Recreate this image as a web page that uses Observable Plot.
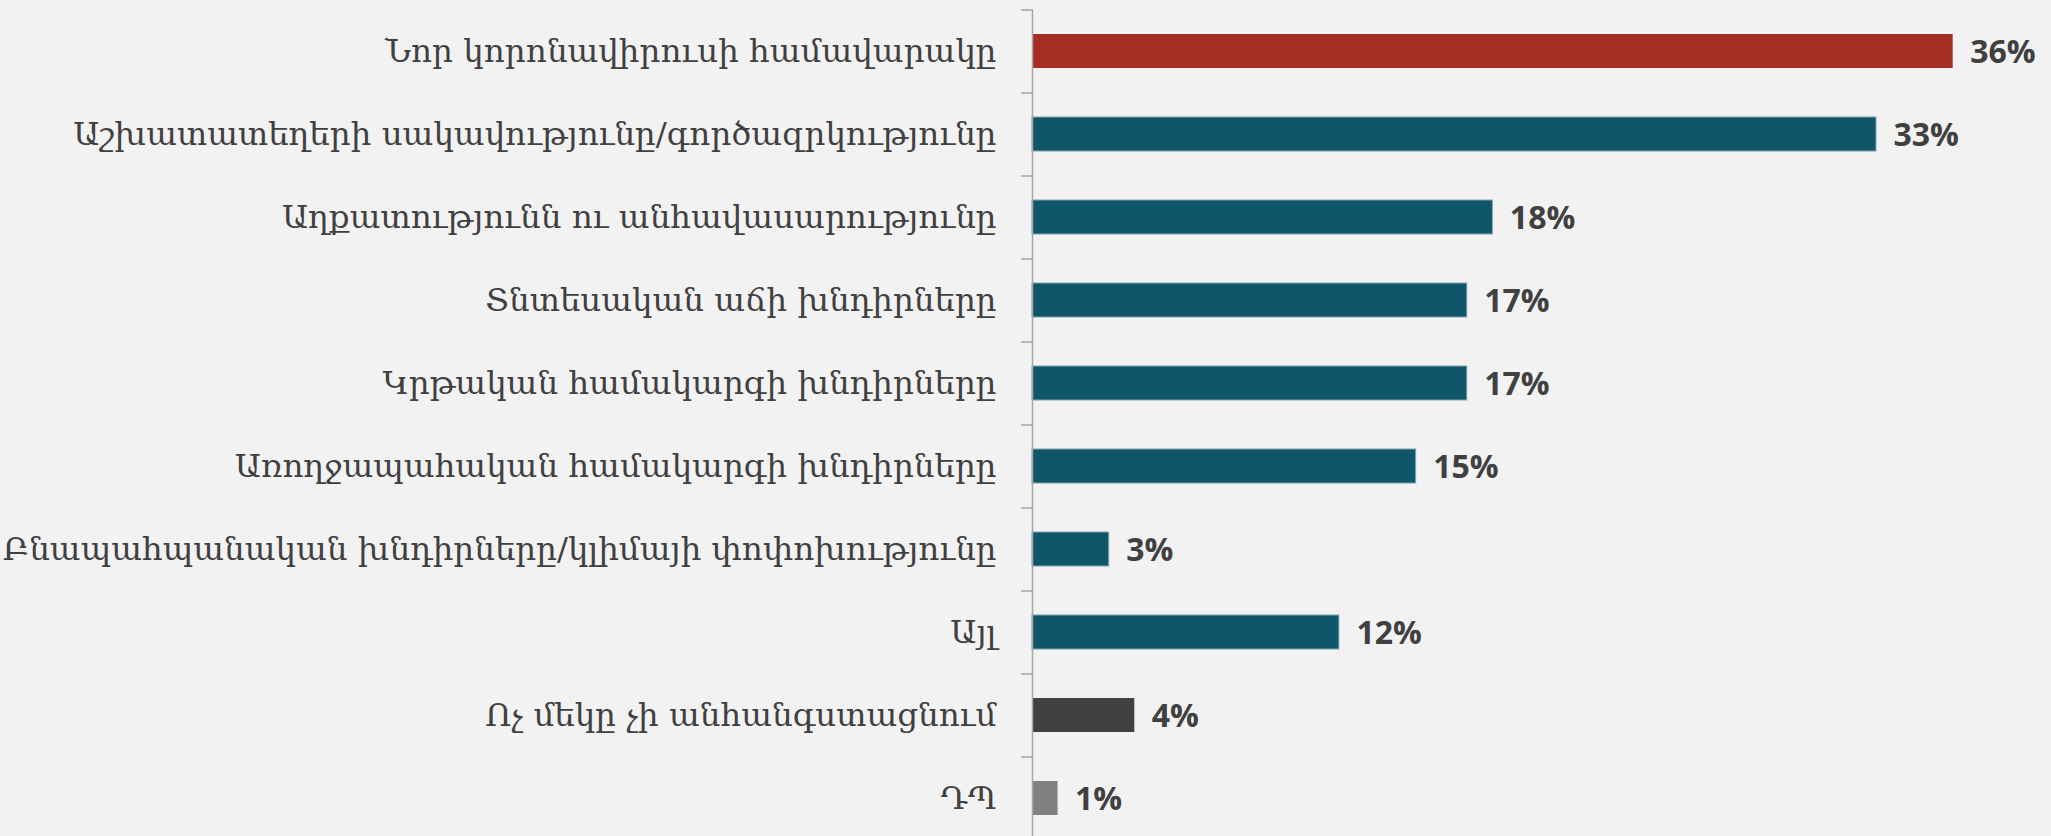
<!DOCTYPE html>
<html>
<head>
<meta charset="utf-8">
<script src="https://cdn.jsdelivr.net/npm/d3@7"></script>
<script src="https://cdn.jsdelivr.net/npm/@observablehq/plot@0.6"></script>
<style>
  html, body { margin: 0; padding: 0; background: #F2F2F2; }
  #chart svg { display: block; }
</style>
</head>
<body>
<div id="chart"></div>
<script>
const categories = [
  "Նոր կորոնավիրուսի համավարակը",
  "Աշխատատեղերի սակավությունը/գործազրկությունը",
  "Աղքատությունն ու անհավասարությունը",
  "Տնտեսական աճի խնդիրները",
  "Կրթական համակարգի խնդիրները",
  "Առողջապահական համակարգի խնդիրները",
  "Բնապահպանական խնդիրները/կլիմայի փոփոխությունը",
  "Այլ",
  "Ոչ մեկը չի անհանգստացնում",
  "ԴՊ"
];
const values = [36, 33, 18, 17, 17, 15, 3, 12, 4, 1];
const groups = ["highlight", "issue", "issue", "issue", "issue", "issue", "issue", "issue", "none", "dk"];

const data = categories.map((c, i) => ({category: c, value: values[i], group: groups[i]}));

const chart = Plot.plot({
  width: 2051,
  height: 836,
  marginTop: 9.3,
  marginBottom: 0,
  marginLeft: 1032,
  marginRight: 0,
  style: {background: "#F2F2F2", overflow: "visible"},
  x: {domain: [0, 40], range: [1032, 2055], axis: null},
  y: {domain: categories, range: [9.3, 839.3], paddingInner: 0.594, paddingOuter: 0.297, label: null, axis: null},
  color: {
    domain: ["highlight", "issue", "none", "dk"],
    range: ["#A52D22", "#10566B", "#404040", "#808080"]
  },
  marks: [
    Plot.barX(data, {
      x: "value", y: "category", fill: "group",
      stroke: d => d.group === "issue" ? "#7FA3B0" : "none",
      strokeWidth: 1
    }),
    Plot.ruleX([0], {stroke: "#A6A6A6", strokeWidth: 1.5}),
    Plot.axisY({tickSize: 11, text: null, dy: -41.5, stroke: "#A6A6A6", strokeWidth: 1.5}),
    Plot.axisY({
      tickSize: 0, tickPadding: 36, label: null,
      fontFamily: "DejaVu Serif", fontSize: 32.5, fill: "#404040"
    }),
    Plot.text(data, {
      x: "value", y: "category", text: d => d.value + "%",
      textAnchor: "start", dx: 17, dy: 1,
      fontFamily: "Open Sans", fontWeight: "bold", fontSize: 32, fill: "#404040"
    })
  ]
});
document.getElementById("chart").append(chart);
</script>
</body>
</html>
